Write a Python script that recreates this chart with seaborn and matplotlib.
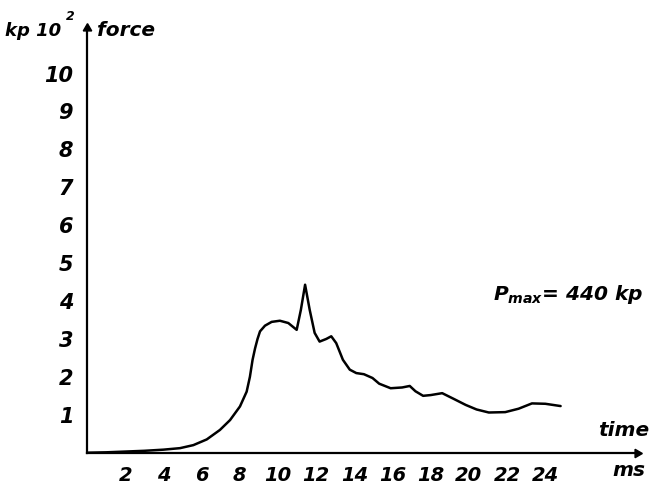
import matplotlib
matplotlib.use("Agg")
import matplotlib.pyplot as plt
import seaborn as sns
import pandas as pd

# ---- data ----
time_ms = [0, 1, 2, 3, 4, 4.87, 5.57, 6.27, 6.96, 7.49, 8.01, 8.36, 8.53, 8.67,
           8.8, 8.93, 9.06, 9.32, 9.67, 10.1, 10.54, 10.98, 11.2, 11.42, 11.66,
           11.92, 12.18, 12.53, 12.79, 13.05, 13.4, 13.76, 14.1, 14.5, 14.95,
           15.3, 15.9, 16.5, 16.9, 17.2, 17.6, 18.0, 18.6, 19.2, 19.83, 20.4,
           21.04, 21.9, 22.6, 23.3, 24.0, 24.8]
force = [0, 0.01, 0.03, 0.05, 0.08, 0.12, 0.2, 0.35, 0.6, 0.86, 1.22, 1.61, 2.0,
         2.45, 2.75, 3.0, 3.2, 3.35, 3.45, 3.48, 3.42, 3.24, 3.77, 4.43, 3.77,
         3.16, 2.93, 3.0, 3.07, 2.89, 2.45, 2.19, 2.1, 2.07, 1.97, 1.82, 1.7,
         1.72, 1.76, 1.62, 1.5, 1.52, 1.57, 1.42, 1.26, 1.14, 1.06, 1.07, 1.16,
         1.3, 1.29, 1.23]
x_ticks = [0, 2, 4, 6, 8, 10, 12, 14, 16, 18, 20, 22, 24]
x_ticklabels = ["", "2", "4", "6", "8", "10", "12", "14", "16", "18", "20", "22", "24"]
y_ticks = [1, 2, 3, 4, 5, 6, 7, 8, 9, 10]
y_ticklabels = [str(v) for v in y_ticks]

df = pd.DataFrame({"time": time_ms, "force": force})

sns.set_style("white")
plt.rcParams["font.family"] = ["DejaVu Sans"]
plt.rcParams["font.style"] = "italic"
plt.rcParams["font.weight"] = "bold"
plt.rcParams["mathtext.fontset"] = "custom"
plt.rcParams["mathtext.it"] = "DejaVu Sans:italic:bold"
plt.rcParams["mathtext.rm"] = "DejaVu Sans:italic:bold"
plt.rcParams["lines.solid_joinstyle"] = "round"

W, H = 656, 487
fig = plt.figure(figsize=(W / 100, H / 100), dpi=100)
# axes: x 0..28.8 -> px 87..637 ; y 0..11.2 -> px 452.7..28
ax = fig.add_axes([87 / W, (H - 452.7) / H, 550 / W, (452.7 - 28) / H])
ax.set_xlim(0, 28.8)
ax.set_ylim(0, 11.2)

sns.lineplot(data=df, x="time", y="force", ax=ax, color="black", linewidth=1.8,
             sort=False, estimator=None)

for s in ["top", "right"]:
    ax.spines[s].set_visible(False)
for s in ["left", "bottom"]:
    ax.spines[s].set_linewidth(1.6)
    ax.spines[s].set_color("black")

# arrow heads
ax.plot(1, 0, marker=(3, 0, -90), color="black", markersize=7,
        transform=ax.get_yaxis_transform(), clip_on=False)
ax.plot(0, 1, marker=(3, 0, 0), color="black", markersize=7,
        transform=ax.get_xaxis_transform(), clip_on=False)

ax.set_xticks(x_ticks)
ax.set_xticklabels(x_ticklabels)
ax.set_yticks(y_ticks)
ax.set_yticklabels(y_ticklabels)
ax.tick_params(axis="x", direction="inout", length=9, width=1.4, pad=5,
               labelsize=14, colors="black")
ax.tick_params(axis="y", direction="out", length=6, width=1.4, pad=4,
               labelsize=15, colors="black")
for lab in ax.get_xticklabels() + ax.get_yticklabels():
    lab.set_fontstyle("italic")
    lab.set_fontweight("bold")
ax.set_xlabel("")
ax.set_ylabel("")

def ftext(px, py, s, **kw):
    fig.text(px / W, 1 - py / H, s, ha="left", va="baseline", color="black",
             style="italic", fontweight="bold", **kw)

ftext(5, 36, "kp 10", fontsize=13)
ftext(66, 20, "2", fontsize=9)
ftext(97, 36, "force", fontsize=14.5)
ftext(598, 436, "time", fontsize=14.5)
ftext(612, 476, "ms", fontsize=14.5)
ftext(493, 300, r"$P_{max}$= 440 kp", fontsize=14.5)

fig.savefig("out.png", dpi=100)
